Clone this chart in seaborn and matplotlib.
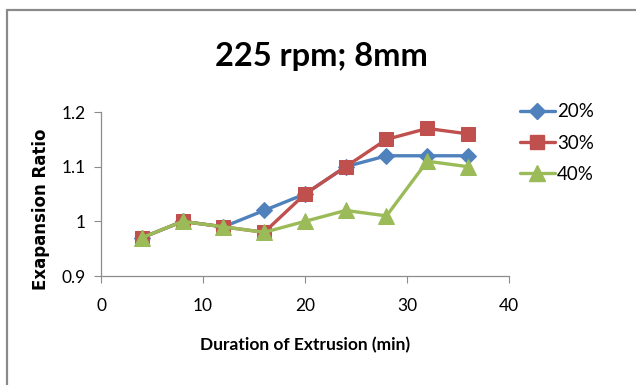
import matplotlib
matplotlib.use("Agg")
import matplotlib.pyplot as plt
from matplotlib.lines import Line2D
import seaborn as sns
import pandas as pd

# Extrusion duration (min) and expansion ratio per moisture level
duration = [4, 8, 12, 16, 20, 24, 28, 32, 36]
series_names = ["20%", "30%", "40%"]
ratio_20 = [0.97, 1.00, 0.99, 1.02, 1.05, 1.10, 1.12, 1.12, 1.12]
ratio_30 = [0.97, 1.00, 0.99, 0.98, 1.05, 1.10, 1.15, 1.17, 1.16]
ratio_40 = [0.97, 1.00, 0.99, 0.98, 1.00, 1.02, 1.01, 1.11, 1.10]
x_ticks = [0, 10, 20, 30, 40]
y_ticks = [0.9, 1.0, 1.1, 1.2]
y_tick_labels = ["0.9", "1", "1.1", "1.2"]

df = pd.DataFrame({
    "Duration": duration * 3,
    "Ratio": ratio_20 + ratio_30 + ratio_40,
    "Series": [series_names[0]] * len(duration)
    + [series_names[1]] * len(duration)
    + [series_names[2]] * len(duration),
})

sns.set_theme(style="white")
plt.rcParams["font.family"] = ["Lato", "DejaVu Sans"]
plt.rcParams["text.color"] = "black"

palette = {"20%": "#4F81BD", "30%": "#C0504D", "40%": "#9BBB59"}
markers = {"20%": "D", "30%": "s", "40%": "^"}
sizes = {"20%": 8, "30%": 10, "40%": 11}

fig = plt.figure(figsize=(6.36, 3.85), dpi=100)
ax = fig.add_axes([0.159, 0.283, 0.641, 0.426])

for name in series_names:
    sub = df[df["Series"] == name]
    sns.lineplot(data=sub, x="Duration", y="Ratio", color=palette[name],
                 marker=markers[name], markersize=sizes[name],
                 markeredgecolor=palette[name], linewidth=2.4,
                 ax=ax, label=name)

ax.set_xlim(0, 40)
ax.set_ylim(0.9, 1.2)
ax.set_xticks(x_ticks)
ax.set_yticks(y_ticks)
ax.set_yticklabels(y_tick_labels)
ax.tick_params(axis="both", labelsize=12.5, colors="black",
               length=5, width=0.8, direction="out", color="#8c8c8c",
               bottom=True, left=True, pad=6)
ax.tick_params(axis="x", pad=11)
for side in ["top", "right"]:
    ax.spines[side].set_visible(False)
for side in ["left", "bottom"]:
    ax.spines[side].set_color("#8c8c8c")
    ax.spines[side].set_linewidth(0.9)

ax.set_xlabel("Duration of Extrusion (min)", fontsize=12.5, fontweight="bold",
              color="black", labelpad=16)
ax.set_ylabel("Exapansion Ratio", fontsize=12, fontweight="bold",
              family="DejaVu Sans", color="black")
ax.yaxis.set_label_coords(-0.125, 0.41)

fig.text(0.506, 0.852, "225 rpm; 8mm", ha="center", va="center",
         fontsize=23.5, fontweight="bold", color="black")

handles = [Line2D([0], [0], color=palette[n], marker=markers[n],
                  markersize=sizes[n], linewidth=2.4) for n in series_names]
ax.legend(handles, series_names, loc="upper left", bbox_to_anchor=(0.985, 1.155),
          frameon=False, fontsize=13.5, handlelength=1.9, handletextpad=0.1,
          labelspacing=0.75)

# Chart-area border
border_color = "#8a8a8a"
fig.add_artist(Line2D([0.011, 0.011], [0.0, 0.974], color=border_color,
                      linewidth=1.6, transform=fig.transFigure))
fig.add_artist(Line2D([0.011, 1.0], [0.974, 0.974], color=border_color,
                      linewidth=1.6, transform=fig.transFigure))

fig.savefig("out.png", dpi=100)
